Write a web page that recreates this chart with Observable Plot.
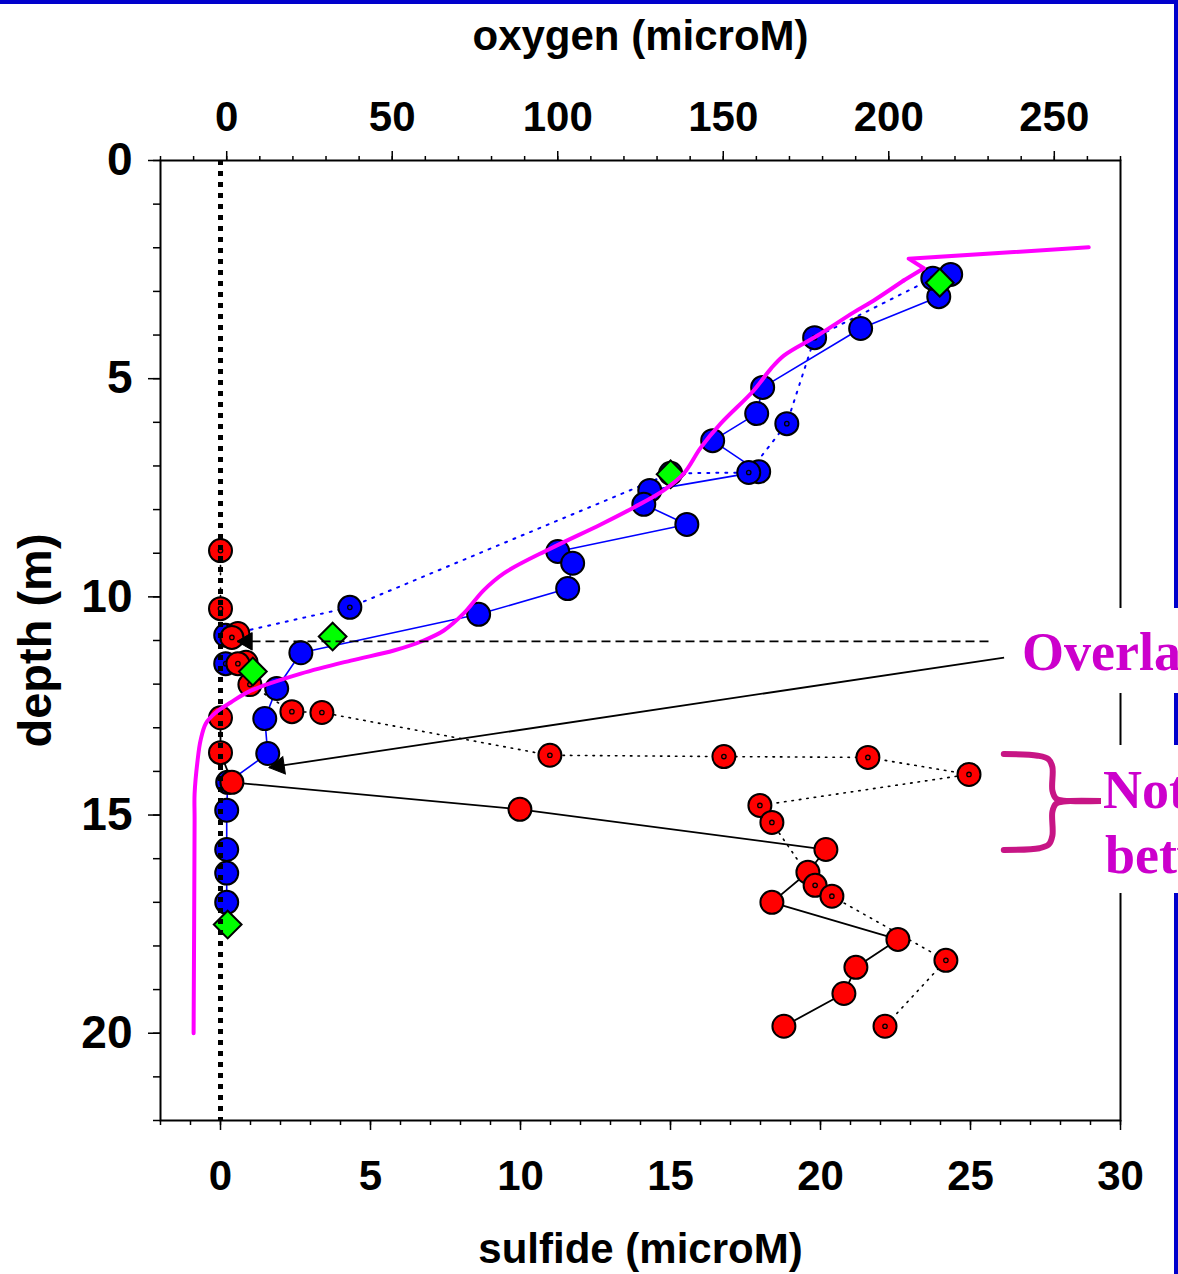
<!DOCTYPE html>
<html>
<head>
<meta charset="utf-8">
<script src="https://cdn.jsdelivr.net/npm/d3@7"></script>
<script src="https://cdn.jsdelivr.net/npm/@observablehq/plot@0.6"></script>
<style>
  html, body { margin: 0; padding: 0; background: #fff; }
  body { width: 1178px; height: 1274px; overflow: hidden; position: relative; }
  #chart { position: absolute; left: 0; top: 0; }
  #border { position: absolute; left: 0; top: 0; width: 1178px; height: 1274px; box-sizing: border-box;
            border-top: 4px solid #0000cc; border-right: 4px solid #0000cc; pointer-events: none; }
  .note { position: absolute; background: #fff; overflow: hidden; }
  .note span { position: absolute; white-space: nowrap; color: #cc00cc;
               font-family: "Liberation Serif", "Times New Roman", serif; font-weight: bold; font-size: 54px; line-height: 54px; }
</style>
</head>
<body>
<div id="chart"></div>
<div id="border"></div>
<div class="note" style="left:1012px; top:608px; width:166px; height:85px;">
  <span style="left:10px; top:17px;">Overla</span>
</div>
<div class="note" style="left:1101px; top:745px; width:77px; height:148px;">
  <span style="left:2px; top:18px;">Not</span>
  <span style="left:4px; top:83px;">betw</span>
</div>
<script>
// ---------- axes ----------
const sulfideDomain = [-2, 30];
const oxygenDomain = [-20, 270];
const depthDomain = [0, 22];
const sulfideTicks = [0, 5, 10, 15, 20, 25, 30];
const oxygenTicks = [0, 50, 100, 150, 200, 250];
const depthTicks = [0, 5, 10, 15, 20];

// ---------- oxygen: blue circles, solid line ----------
const blueSolidDepth  = [2.61, 3.12, 3.85, 5.20, 5.80, 6.42, 7.13, 7.56, 7.88, 8.34, 8.96, 9.23, 9.81, 10.40, 11.28, 12.10, 12.79, 13.59, 14.25, 14.89, 15.79, 16.33, 17.00];
const blueSolidOxygen = [218.7, 215.1, 191.5, 161.9, 160.1, 146.8, 160.7, 127.8, 126.0, 139.0, 100.0, 104.5, 103.0, 76.1, 22.4, 15.1, 11.5, 12.4, 0.3, 0.0, 0.0, 0.0, 0.0];

// ---------- oxygen: blue circles with centre dot, dotted line ----------
const blueDottedDepth  = [2.70, 4.06, 6.03, 7.15, 7.17, 10.24, 10.88, 11.53];
const blueDottedOxygen = [213.3, 177.6, 169.2, 157.7, 134.1, 37.2, -0.3, -0.3];

// ---------- oxygen: green diamonds ----------
const greenDepth  = [2.80, 7.19, 10.91, 11.71, 17.51];
const greenOxygen = [215.4, 134.1, 32.0, 7.9, 0.3];

// ---------- oxygen: magenta sensor profile ----------
const profileDepth  = [1.99, 2.25, 2.47, 2.75, 3.25, 3.48, 4.01, 4.47, 4.77, 5.27, 6.03, 6.58, 7.17, 7.56, 7.95, 8.34, 8.89, 9.46, 9.85, 10.38, 10.77, 11.00, 11.23, 11.46, 11.76, 12.15, 12.42, 12.65, 12.90, 13.29, 13.75, 14.51, 15.12, 20.00];
const profileOxygen = [260.4, 206.0, 210.6, 204.5, 194.6, 189.4, 178.5, 168.3, 164.4, 159.2, 149.2, 143.2, 138.1, 132.0, 123.0, 113.0, 97.9, 83.7, 77.6, 71.6, 65.6, 59.5, 50.5, 37.5, 22.4, 7.3, 1.2, -3.3, -6.3, -7.9, -8.8, -9.7, -9.7, -10.0];

// ---------- sulfide: red filled circles, solid black line ----------
const redSolidDepth   = [12.77, 13.57, 14.25, 14.87, 15.79, 16.31, 17.00, 17.85, 18.49, 19.09, 19.84];
const redSolidSulfide = [0.0, 0.0, 0.38, 9.98, 20.18, 19.58, 18.38, 22.58, 21.18, 20.78, 18.78];
const redLooseDepth   = [10.84, 11.50];
const redLooseSulfide = [0.58, 0.85];

// ---------- sulfide: red circles with centre dot, dotted black line ----------
const redDottedDepth   = [8.94, 10.27, 10.93, 11.53, 12.01, 12.63, 12.65, 13.63, 13.66, 13.68, 14.07, 14.78, 15.17, 16.61, 16.86, 18.33, 19.84];
const redDottedSulfide = [0.0, 0.0, 0.38, 0.58, 0.98, 2.38, 3.38, 10.98, 16.78, 21.58, 24.95, 17.98, 18.38, 19.82, 20.38, 24.18, 22.15];

// ---------- annotations (sulfide / depth units) ----------
const arrowFromSulfide = [25.6, 26.12];
const arrowFromDepth   = [11.02, 11.39];
const arrowToSulfide   = [0.55, 1.62];
const arrowToDepth     = [11.02, 13.91];
const braceUpperSulfide = [26.11, 27.24, 27.6, 27.73, 27.73, 27.85, 28.1, 29.35];
const braceUpperDepth   = [13.60, 13.64, 13.72, 13.90, 14.44, 14.62, 14.67, 14.68];
const braceLowerSulfide = [29.35, 28.1, 27.85, 27.73, 27.73, 27.6, 27.3, 26.11];
const braceLowerDepth   = [14.68, 14.69, 14.74, 14.92, 15.47, 15.68, 15.76, 15.80];

// ---------- build ----------
const W = 1178, H = 1274, mL = 160, mR = 58, mT = 160, mB = 154;
const o2s = d3.scaleLinear().domain(oxygenDomain).range(sulfideDomain);
const s2o = o2s.copy().domain(sulfideDomain).range(oxygenDomain);
const rows = (depths, values, conv = v => v) => depths.map((d, i) => ({depth: d, x: conv(values[i])}));

const blueSolid = rows(blueSolidDepth, blueSolidOxygen, o2s);
const blueDotted = rows(blueDottedDepth, blueDottedOxygen, o2s);
const green = rows(greenDepth, greenOxygen, o2s);
const profile = rows(profileDepth, profileOxygen, o2s);
const redSolid = rows(redSolidDepth, redSolidSulfide);
const redLoose = rows(redLooseDepth, redLooseSulfide);
const redDotted = rows(redDottedDepth, redDottedSulfide);
const braceUpper = rows(braceUpperDepth, braceUpperSulfide);
const braceLower = rows(braceLowerDepth, braceLowerSulfide);

const kx = (W - mL - mR) / (sulfideDomain[1] - sulfideDomain[0]);
const ky = (H - mT - mB) / (depthDomain[1] - depthDomain[0]);
const headR = 6.5, headBack = 2 * 0.7776 * headR;

const arrowMarks = arrowFromSulfide.flatMap((_, i) => {
  const link = [{x1: arrowFromSulfide[i], y1: arrowFromDepth[i], x2: arrowToSulfide[i], y2: arrowToDepth[i]}];
  const px = (arrowToSulfide[i] - arrowFromSulfide[i]) * kx;
  const py = (arrowToDepth[i] - arrowFromDepth[i]) * ky;
  const len = Math.hypot(px, py), ux = px / len, uy = py / len;
  const angle = Math.atan2(ux, -uy) * 180 / Math.PI;
  return [
    Plot.link(link, {x1: "x1", y1: "y1", x2: "x2", y2: "y2", stroke: "black", strokeWidth: i === 0 ? 1.6 : 1.8,
                     strokeDasharray: i === 0 ? "9,5" : null}),
    Plot.dot([{x: arrowToSulfide[i], depth: arrowToDepth[i]}], {x: "x", y: "depth", symbol: "triangle", r: headR,
             rotate: angle, fill: "black", stroke: "black", strokeWidth: 1, dx: -ux * headBack, dy: -uy * headBack})
  ];
});

const circle = (data, fill) => Plot.dot(data, {x: "x", y: "depth", r: 11.5, fill, stroke: "black", strokeWidth: 2});
const centre = (data) => Plot.dot(data, {x: "x", y: "depth", r: 2.2, fill: "none", stroke: "black", strokeWidth: 1.3});

const chart = Plot.plot({
  width: W, height: H,
  marginLeft: mL, marginRight: mR, marginTop: mT, marginBottom: mB,
  x: {domain: sulfideDomain},
  y: {domain: depthDomain, reverse: true},
  style: {fontFamily: "'Liberation Sans', Arial, Helvetica, sans-serif", fontSize: "41px", fontWeight: "bold",
          background: "transparent", overflow: "visible", color: "black"},
  marks: [
    // blue oxygen casts
    Plot.line(blueDotted, {x: "x", y: "depth", stroke: "#0000ff", strokeWidth: 2, strokeDasharray: "2,7"}),
    Plot.line(blueSolid, {x: "x", y: "depth", stroke: "#0000ff", strokeWidth: 1.6}),
    circle(blueSolid, "#0000ff"),
    circle(blueDotted, "#0000ff"),
    centre(blueDotted),
    // red sulfide casts
    Plot.line(redDotted, {x: "x", y: "depth", stroke: "black", strokeWidth: 1.6, strokeDasharray: "1.5,6"}),
    Plot.line(redSolid, {x: "x", y: "depth", stroke: "black", strokeWidth: 1.8}),
    circle(redLoose, "#ff0000"),
    circle(redSolid, "#ff0000"),
    circle(redDotted, "#ff0000"),
    centre(redDotted),
    // green diamonds
    Plot.dot(green, {x: "x", y: "depth", symbol: "diamond2", r: 12.5, fill: "#00ff00", stroke: "black", strokeWidth: 2}),
    // zero sulfide line
    Plot.ruleX([0], {stroke: "black", strokeWidth: 5, strokeDasharray: "5,6"}),
    // magenta profile (sharp surface spike, smooth below)
    Plot.line(profile.slice(0, 4), {x: "x", y: "depth", stroke: "#ff00ff", strokeWidth: 4, strokeLinejoin: "round"}),
    Plot.line(profile.slice(3), {x: "x", y: "depth", stroke: "#ff00ff", strokeWidth: 4, strokeLinejoin: "round", curve: "catmull-rom"}),
    // annotations
    ...arrowMarks,
    Plot.line(braceUpper, {x: "x", y: "depth", stroke: "#c71585", strokeWidth: 6, curve: "catmull-rom"}),
    Plot.line(braceLower, {x: "x", y: "depth", stroke: "#c71585", strokeWidth: 6, curve: "catmull-rom"}),
    // frame and axes
    Plot.frame({stroke: "black", strokeWidth: 2}),
    Plot.axisX({anchor: "bottom", ticks: d3.range(sulfideDomain[0], sulfideDomain[1] + 1), tickSize: 5, tickFormat: () => "", label: null, strokeWidth: 1.5}),
    Plot.axisX({anchor: "bottom", ticks: sulfideTicks, tickSize: 10, tickPadding: 30, label: null, strokeWidth: 1.5, fontSize: 42, fontWeight: "bold"}),
    Plot.axisX({anchor: "top", ticks: d3.range(oxygenDomain[0], oxygenDomain[1] + 1, 10).map(o2s), tickSize: 5, tickFormat: () => "", label: null, strokeWidth: 1.5}),
    Plot.axisX({anchor: "top", ticks: oxygenTicks.map(o2s), tickSize: 10, tickPadding: 20, label: null, strokeWidth: 1.5,
                tickFormat: s => String(Math.round(s2o(s))), fontSize: 42, fontWeight: "bold"}),
    Plot.axisY({anchor: "left", ticks: d3.range(depthDomain[0], depthDomain[1] + 1), tickSize: 7, tickFormat: () => "", label: null, strokeWidth: 1.5}),
    Plot.axisY({anchor: "left", ticks: depthTicks, tickSize: 12, tickPadding: 16, label: null, strokeWidth: 1.5, fontSize: 46, fontWeight: "bold"}),
    // axis titles
    Plot.text(["oxygen (microM)"], {text: d => d, frameAnchor: "top", dy: -140, fontSize: 42, fontWeight: "bold"}),
    Plot.text(["sulfide (microM)"], {text: d => d, frameAnchor: "bottom", dy: 142, fontSize: 42, fontWeight: "bold"}),
    Plot.text(["depth (m)"], {text: d => d, frameAnchor: "left", textAnchor: "middle", dx: -125, rotate: -90, fontSize: 47, fontWeight: "bold"})
  ]
});
document.getElementById("chart").append(chart);
</script>
</body>
</html>
